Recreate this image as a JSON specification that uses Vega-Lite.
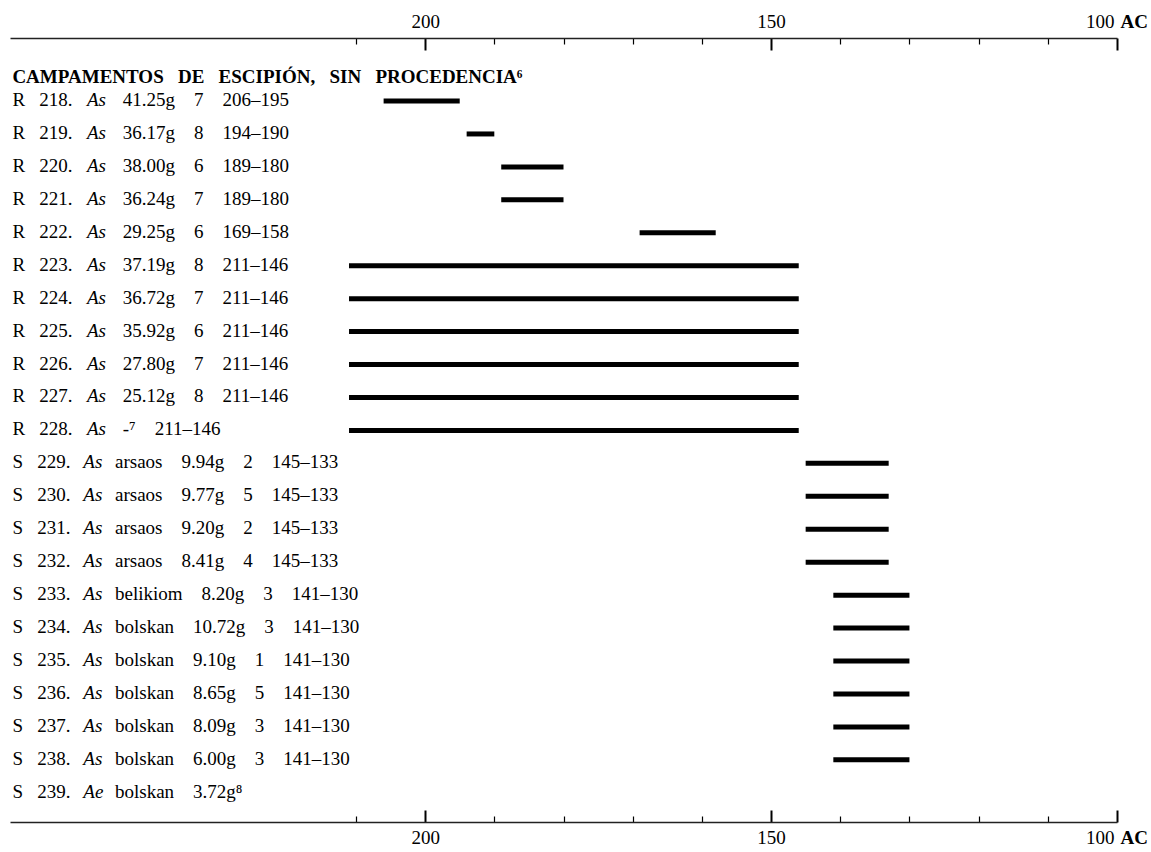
{
  "$schema": "https://vega.github.io/schema/vega-lite/v6.json",
  "width": 1107,
  "height": 784,
  "autosize": "none",
  "padding": {"left": 10, "top": 38, "right": 34, "bottom": 30},
  "background": "white",
  "config": {
    "view": {"stroke": null},
    "text": {"font": "Liberation Serif", "fontSize": 19, "color": "black"}
  },
  "data": {
    "values": [
      {"label": "R\u2002\u00a0218.", "series": "R", "type": "As", "rest": "41.25g\u20037\u2003206\u2013195", "from": 206, "to": 195},
      {"label": "R\u2002\u00a0219.", "series": "R", "type": "As", "rest": "36.17g\u20038\u2003194\u2013190", "from": 194, "to": 190},
      {"label": "R\u2002\u00a0220.", "series": "R", "type": "As", "rest": "38.00g\u20036\u2003189\u2013180", "from": 189, "to": 180},
      {"label": "R\u2002\u00a0221.", "series": "R", "type": "As", "rest": "36.24g\u20037\u2003189\u2013180", "from": 189, "to": 180},
      {"label": "R\u2002\u00a0222.", "series": "R", "type": "As", "rest": "29.25g\u20036\u2003169\u2013158", "from": 169, "to": 158},
      {"label": "R\u2002\u00a0223.", "series": "R", "type": "As", "rest": "37.19g\u20038\u2003211\u2013146", "from": 211, "to": 146},
      {"label": "R\u2002\u00a0224.", "series": "R", "type": "As", "rest": "36.72g\u20037\u2003211\u2013146", "from": 211, "to": 146},
      {"label": "R\u2002\u00a0225.", "series": "R", "type": "As", "rest": "35.92g\u20036\u2003211\u2013146", "from": 211, "to": 146},
      {"label": "R\u2002\u00a0226.", "series": "R", "type": "As", "rest": "27.80g\u20037\u2003211\u2013146", "from": 211, "to": 146},
      {"label": "R\u2002\u00a0227.", "series": "R", "type": "As", "rest": "25.12g\u20038\u2003211\u2013146", "from": 211, "to": 146},
      {"label": "R\u2002\u00a0228.", "series": "R", "type": "As", "rest": "-\u2077\u2003211\u2013146", "from": 211, "to": 146},
      {"label": "S\u2002\u00a0229.", "series": "S", "type": "As", "rest": "arsaos\u20039.94g\u20032\u2003145\u2013133", "from": 145, "to": 133},
      {"label": "S\u2002\u00a0230.", "series": "S", "type": "As", "rest": "arsaos\u20039.77g\u20035\u2003145\u2013133", "from": 145, "to": 133},
      {"label": "S\u2002\u00a0231.", "series": "S", "type": "As", "rest": "arsaos\u20039.20g\u20032\u2003145\u2013133", "from": 145, "to": 133},
      {"label": "S\u2002\u00a0232.", "series": "S", "type": "As", "rest": "arsaos\u20038.41g\u20034\u2003145\u2013133", "from": 145, "to": 133},
      {"label": "S\u2002\u00a0233.", "series": "S", "type": "As", "rest": "belikiom\u20038.20g\u20033\u2003141\u2013130", "from": 141, "to": 130},
      {"label": "S\u2002\u00a0234.", "series": "S", "type": "As", "rest": "bolskan\u200310.72g\u20033\u2003141\u2013130", "from": 141, "to": 130},
      {"label": "S\u2002\u00a0235.", "series": "S", "type": "As", "rest": "bolskan\u20039.10g\u20031\u2003141\u2013130", "from": 141, "to": 130},
      {"label": "S\u2002\u00a0236.", "series": "S", "type": "As", "rest": "bolskan\u20038.65g\u20035\u2003141\u2013130", "from": 141, "to": 130},
      {"label": "S\u2002\u00a0237.", "series": "S", "type": "As", "rest": "bolskan\u20038.09g\u20033\u2003141\u2013130", "from": 141, "to": 130},
      {"label": "S\u2002\u00a0238.", "series": "S", "type": "As", "rest": "bolskan\u20036.00g\u20033\u2003141\u2013130", "from": 141, "to": 130},
      {"label": "S\u2002\u00a0239.", "series": "S", "type": "Ae", "rest": "bolskan\u20033.72g\u2078"}
    ]
  },
  "layer": [
    {
      "mark": {"type": "rule", "strokeWidth": 5, "color": "black"},
      "encoding": {
        "x": {
          "field": "from", "type": "quantitative",
          "scale": {"domain": [100, 260], "reverse": true, "nice": false, "zero": false},
          "axis": {
            "orient": "top",
            "values": [210, 200, 190, 180, 170, 160, 150, 140, 130, 120, 110, 100],
            "grid": false,
            "domainColor": "#222", "domainWidth": 1.5,
            "tickColor": "black",
            "tickWidth": {"condition": {"test": "datum.value % 50 === 0", "value": 2}, "value": 1.2},
            "tickSize": {"condition": {"test": "datum.value % 50 === 0", "value": -12}, "value": -6},
            "labelExpr": "datum.value % 50 === 0 ? datum.label : ''",
            "labelFont": "Liberation Serif", "labelFontSize": 19, "labelColor": "black",
            "labelBaseline": "alphabetic", "labelPadding": 22.7,
            "labelAlign": {"condition": {"test": "datum.value === 100", "value": "right"}, "value": "center"},
            "labelOffset": {"condition": {"test": "datum.value === 100", "value": -3}, "value": 0},
            "labelFlush": false, "labelOverlap": false, "labelBound": false,
            "title": "AC", "titleFont": "Liberation Serif", "titleFontSize": 19, "titleFontWeight": "bold",
            "titleColor": "black", "titleX": 1110, "titleY": -10.7, "titleAlign": "left",
            "titleBaseline": "alphabetic", "titleAngle": 0
          }
        },
        "x2": {"field": "to"},
        "y": {"field": "label", "type": "nominal", "scale": {"type": "band", "paddingInner": 0, "paddingOuter": 0.9, "align": 0.785}, "axis": null}
      }
    },
    {
      "mark": {"type": "text", "align": "left", "baseline": "alphabetic", "dx": 2.4, "dy": 5},
      "encoding": {
        "x": {
          "datum": 260, "type": "quantitative",
          "scale": {"domain": [100, 260], "reverse": true, "nice": false, "zero": false},
          "axis": {
            "orient": "bottom",
            "values": [210, 200, 190, 180, 170, 160, 150, 140, 130, 120, 110, 100],
            "grid": false,
            "domainColor": "#222", "domainWidth": 1.5,
            "tickColor": "black",
            "tickWidth": {"condition": {"test": "datum.value % 50 === 0", "value": 2}, "value": 1.2},
            "tickSize": {"condition": {"test": "datum.value % 50 === 0", "value": -12}, "value": -6},
            "labelExpr": "datum.value % 50 === 0 ? datum.label : ''",
            "labelFont": "Liberation Serif", "labelFontSize": 19, "labelColor": "black",
            "labelBaseline": "alphabetic", "labelPadding": 33.7,
            "labelAlign": {"condition": {"test": "datum.value === 100", "value": "right"}, "value": "center"},
            "labelOffset": {"condition": {"test": "datum.value === 100", "value": -3}, "value": 0},
            "labelFlush": false, "labelOverlap": false, "labelBound": false,
            "title": "AC", "titleFont": "Liberation Serif", "titleFontSize": 19, "titleFontWeight": "bold",
            "titleColor": "black", "titleX": 1110, "titleY": 21.7, "titleAlign": "left",
            "titleBaseline": "alphabetic", "titleAngle": 0
          }
        },
        "y": {"field": "label", "type": "nominal", "axis": null},
        "text": {"field": "label"}
      }
    },
    {
      "transform": [{"filter": "datum.series === 'R'"}],
      "mark": {"type": "text", "align": "left", "baseline": "alphabetic", "fontStyle": "italic", "dx": 77, "dy": 5},
      "encoding": {
        "x": {"datum": 260, "type": "quantitative", "axis": null},
        "y": {"field": "label", "type": "nominal", "axis": null},
        "text": {"field": "type"}
      }
    },
    {
      "transform": [{"filter": "datum.series === 'S'"}],
      "mark": {"type": "text", "align": "left", "baseline": "alphabetic", "fontStyle": "italic", "dx": 73.3, "dy": 5},
      "encoding": {
        "x": {"datum": 260, "type": "quantitative", "axis": null},
        "y": {"field": "label", "type": "nominal", "axis": null},
        "text": {"field": "type"}
      }
    },
    {
      "transform": [{"filter": "datum.series === 'R'"}],
      "mark": {"type": "text", "align": "left", "baseline": "alphabetic", "dx": 112.7, "dy": 5},
      "encoding": {
        "x": {"datum": 260, "type": "quantitative", "axis": null},
        "y": {"field": "label", "type": "nominal", "axis": null},
        "text": {"field": "rest"}
      }
    },
    {
      "transform": [{"filter": "datum.series === 'S'"}],
      "mark": {"type": "text", "align": "left", "baseline": "alphabetic", "dx": 105, "dy": 5},
      "encoding": {
        "x": {"datum": 260, "type": "quantitative", "axis": null},
        "y": {"field": "label", "type": "nominal", "axis": null},
        "text": {"field": "rest"}
      }
    },
    {
      "data": {"values": [{"heading": "CAMPAMENTOS\u2002\u00a0DE\u2002\u00a0ESCIPI\u00d3N,\u2002\u00a0SIN\u2002\u00a0PROCEDENCIA\u2076"}]},
      "mark": {"type": "text", "align": "left", "baseline": "alphabetic", "fontWeight": "bold", "dx": 2.4, "dy": -18.5},
      "encoding": {
        "x": {"datum": 260, "type": "quantitative", "axis": null},
        "y": {"datum": "R\u2002\u00a0218.", "type": "nominal", "axis": null},
        "text": {"field": "heading"}
      }
    }
  ],
  "resolve": {"axis": {"x": "independent"}}
}
